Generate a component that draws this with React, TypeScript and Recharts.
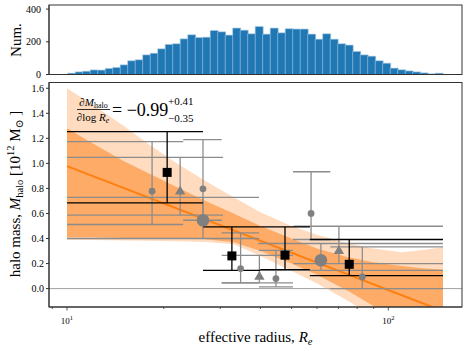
import React from 'react';
import {
  BarChart,
  Bar,
  ComposedChart,
  XAxis,
  YAxis,
  Area,
  Line,
  Scatter,
  ReferenceLine,
} from 'recharts';

const FONT = '"Liberation Serif", "DejaVu Serif", serif';

// histogram of effective radius, 50 log-spaced bins from 10 to ~148
const histCounts = [
  8, 16, 20, 28, 27, 37, 43, 59, 84, 90, 120, 130, 157, 184, 188, 218, 243, 226, 228, 269,
  261, 241, 284, 271, 249, 294, 247, 284, 255, 280, 278, 278, 247, 216, 249, 216, 188, 180, 141, 120,
  112, 84, 69, 39, 29, 22, 16, 10, 4, 8,
];

// log x axis
const xDomain = [8.79, 169.6];
const xTicks = [9, 10, 20, 30, 40, 50, 60, 70, 80, 90, 100];
const majorTicks = [10, 100];

// posterior bands of the fit
const bandX = [10, 12, 15, 18, 22, 27, 33, 40, 50, 60, 75, 90, 110, 130, 148];
const lightHi = [1.6, 1.47, 1.3, 1.15, 1.0, 0.86, 0.73, 0.61, 0.5, 0.43, 0.36, 0.32, 0.29, 0.31, 0.33];
const darkHi = [1.28, 1.16, 1.02, 0.92, 0.81, 0.7, 0.6, 0.5, 0.4, 0.32, 0.25, 0.21, 0.18, 0.16, 0.15];
const darkLo = [0.41, 0.41, 0.405, 0.4, 0.4, 0.395, 0.37, 0.3, 0.2, 0.11, -0.02, -0.14, -0.3, -0.45, -0.55];
const lightLo = [0.39, 0.388, 0.385, 0.382, 0.378, 0.372, 0.355, 0.26, 0.14, 0.04, -0.1, -0.22, -0.36, -0.5, -0.6];

// best fit line
const fitX = [10, 148];
const fitY = [0.978, -0.18];

// measurements: value, error range and the span of the caps
const squares = [
  { x: 20.5, y: 0.928, lo: 0.685, hi: 1.253, c0: 10, c1: 26.5 },
  { x: 32.6, y: 0.261, lo: 0.146, hi: 0.493, c0: 26.5, c1: 40 },
  { x: 47.7, y: 0.267, lo: 0.152, hi: 0.493, c0: 40, c1: 57 },
  { x: 75.6, y: 0.194, lo: 0.104, hi: 0.392, c0: 57, c1: 148 },
];
const smallCircles = [
  { x: 18.4, y: 0.778, lo: 0.512, hi: 1.173, c0: 10, c1: 23 },
  { x: 26.5, y: 0.797, lo: 0.546, hi: 1.19, c0: 23, c1: 30.3 },
  { x: 34.7, y: 0.16, lo: 0.045, hi: 0.445, c0: 30.3, c1: 39.6 },
  { x: 44.7, y: 0.08, lo: 0.013, hi: 0.306, c0: 39.6, c1: 50.5 },
  { x: 57.5, y: 0.6, lo: 0.392, hi: 0.933, c0: 50.5, c1: 66 },
  { x: 83, y: 0.093, lo: 0.0, hi: 0.333, c0: 66, c1: 148 },
];
const triangles = [
  { x: 22.5, y: 0.785, lo: 0.586, hi: 1.048, c0: 10, c1: 30.6 },
  { x: 39.7, y: 0.104, lo: 0.045, hi: 0.266, c0: 30.3, c1: 50.5 },
  { x: 70.2, y: 0.31, lo: 0.2, hi: 0.498, c0: 50.7, c1: 148 },
];
const bigCircles = [
  { x: 26.5, y: 0.546, lo: 0.4, hi: 0.729, c0: 10, c1: 39.6 },
  { x: 61.7, y: 0.226, lo: 0.146, hi: 0.36, c0: 39.4, c1: 148 },
];

const histData = histCounts.map((count, i) => ({ bin: i, count }));
const bandData = bandX.map((x, i) => ({
  x,
  light: [lightLo[i], lightHi[i]],
  dark: [darkLo[i], darkHi[i]],
}));
const fitData = fitX.map((x, i) => ({ x, fit: fitY[i] }));

const GRAY = '#8c8c8c';
const MARK_GRAY = '#808080';
const SPINE = '#333';
const tickStyle = { fill: '#000', fontSize: 10, fontFamily: FONT };

function LogTick(props: any) {
  const { x, y, payload, labels } = props;
  const v = payload.value;
  const major = majorTicks.includes(v);
  return (
    <g>
      <line x1={x} x2={x} y1={y} y2={y + (major ? 3.5 : 2)} stroke={SPINE} strokeWidth={0.8} />
      {labels && major && (
        <text x={x} y={y + 17} textAnchor="middle" fontSize={9} fill="#000" fontFamily={FONT}>
          10
          <tspan dy={-4} fontSize={6.5}>
            {Math.round(Math.log10(v))}
          </tspan>
        </text>
      )}
    </g>
  );
}

const errorLines = (pts: any[], color: string, key: string) =>
  pts.flatMap((p, i) => [
    <ReferenceLine
      key={`${key}v${i}`}
      segment={[{ x: p.x, y: p.lo }, { x: p.x, y: p.hi }]}
      stroke={color}
      strokeWidth={1.3}
      ifOverflow="visible"
    />,
    <ReferenceLine
      key={`${key}t${i}`}
      segment={[{ x: p.c0, y: p.hi }, { x: p.c1, y: p.hi }]}
      stroke={color}
      strokeWidth={1.3}
      ifOverflow="visible"
    />,
    <ReferenceLine
      key={`${key}b${i}`}
      segment={[{ x: p.c0, y: p.lo }, { x: p.c1, y: p.lo }]}
      stroke={color}
      strokeWidth={1.3}
      ifOverflow="visible"
    />,
  ]);

const SquareShape = (p: any) => <rect x={p.cx - 4.5} y={p.cy - 4.5} width={9} height={9} fill="#000" />;
const SmallCircle = (p: any) => <circle cx={p.cx} cy={p.cy} r={3.4} fill={MARK_GRAY} />;
const BigCircle = (p: any) => <circle cx={p.cx} cy={p.cy} r={6.3} fill={MARK_GRAY} />;
const TriangleShape = (p: any) => (
  <polygon
    points={`${p.cx},${p.cy - 4.8} ${p.cx - 5.2},${p.cy + 4.3} ${p.cx + 5.2},${p.cy + 4.3}`}
    fill={MARK_GRAY}
  />
);

const App = () => {
  return (
    <div
      style={{
        position: 'absolute',
        left: 0,
        top: 0,
        width: 469,
        height: 351,
        background: '#fff',
        fontFamily: FONT,
      }}
    >
      {/* top panel: histogram */}
      <div style={{ position: 'absolute', left: 0, top: 0 }}>
        <BarChart
          width={469}
          height={80}
          data={histData}
          margin={{ top: 5, right: 7, left: 0, bottom: 0 }}
          barCategoryGap={0}
        >
          <XAxis xAxisId="bins" dataKey="bin" type="category" hide padding={{ left: 18.7, right: 19.3 }} />
          <XAxis
            xAxisId="log"
            type="number"
            scale="log"
            domain={xDomain}
            allowDataOverflow
            ticks={xTicks}
            interval={0}
            tickLine={false}
            tickSize={0}
            tickMargin={0}
            tick={(p: any) => <LogTick {...p} />}
            axisLine={{ stroke: SPINE, strokeWidth: 1 }}
            height={5.5}
          />
          <YAxis
            domain={[0, 425]}
            ticks={[0, 200, 400]}
            width={49}
            tickSize={3}
            tickMargin={5}
            tick={tickStyle}
            tickLine={{ stroke: SPINE }}
            axisLine={{ stroke: SPINE, strokeWidth: 1 }}
          />
          <Bar
            xAxisId="bins"
            dataKey="count"
            fill="#1f77b4"
            stroke="#a9c9e4"
            strokeWidth={0.6}
            isAnimationActive={false}
          />
        </BarChart>
      </div>

      {/* bottom panel: halo mass vs effective radius */}
      <div style={{ position: 'absolute', left: 0, top: 80 }}>
        <ComposedChart
          width={469}
          height={271}
          data={bandData}
          margin={{ top: 2.5, right: 7, left: 0, bottom: 0 }}
        >
          <XAxis
            dataKey="x"
            type="number"
            scale="log"
            domain={xDomain}
            allowDataOverflow
            ticks={xTicks}
            interval={0}
            tickLine={false}
            tickSize={0}
            tickMargin={0}
            tick={(p: any) => <LogTick {...p} labels />}
            axisLine={{ stroke: SPINE, strokeWidth: 1 }}
            height={44}
          />
          <YAxis
            domain={[-0.147, 1.646]}
            allowDataOverflow
            ticks={[0, 0.2, 0.4, 0.6, 0.8, 1.0, 1.2, 1.4, 1.6]}
            tickFormatter={(v: number) => v.toFixed(1)}
            width={49}
            tickSize={3}
            tickMargin={2}
            tick={tickStyle}
            tickLine={{ stroke: SPINE }}
            axisLine={{ stroke: SPINE, strokeWidth: 1 }}
          />

          <Area
            dataKey="light"
            type="linear"
            fill="#ffdcc0"
            fillOpacity={1}
            stroke="none"
            isAnimationActive={false}
          />
          <Area
            dataKey="dark"
            type="linear"
            fill="#fdab66"
            fillOpacity={1}
            stroke="none"
            isAnimationActive={false}
          />
          <Line
            data={fitData}
            dataKey="fit"
            type="linear"
            stroke="#ff7f0e"
            strokeWidth={2}
            dot={false}
            isAnimationActive={false}
          />
          <ReferenceLine y={0} stroke="#a0a0a0" strokeWidth={1} />

          {errorLines(smallCircles, GRAY, 'sc')}
          {errorLines(triangles, GRAY, 'tr')}
          {errorLines(bigCircles, GRAY, 'bc')}
          {errorLines(squares, '#000', 'sq')}

          <Scatter data={smallCircles} dataKey="y" shape={SmallCircle} isAnimationActive={false} />
          <Scatter data={triangles} dataKey="y" shape={TriangleShape} isAnimationActive={false} />
          <Scatter data={bigCircles} dataKey="y" shape={BigCircle} isAnimationActive={false} />
          <Scatter data={squares} dataKey="y" shape={SquareShape} isAnimationActive={false} />
        </ComposedChart>
      </div>

      {/* panel frames, axis labels and fit annotation */}
      <svg
        width={469}
        height={351}
        style={{ position: 'absolute', left: 0, top: 0, pointerEvents: 'none' }}
        fontFamily={FONT}
      >
        <rect x={49} y={5} width={413} height={69.5} fill="none" stroke={SPINE} strokeWidth={1} />
        <rect x={49} y={82.5} width={413} height={224.5} fill="none" stroke={SPINE} strokeWidth={1} />

        <text x={20.5} y={40} fontSize={15} textAnchor="middle" transform="rotate(-90 20.5 40)">
          Num.
        </text>
        <text x={20} y={194} fontSize={15} textAnchor="middle" transform="rotate(-90 20 194)">
          halo mass, <tspan fontStyle="italic">M</tspan>
          <tspan fontSize={10.5} dy={3}>halo</tspan>
          <tspan dy={-3}> [10</tspan>
          <tspan fontSize={10.5} dy={-6}>12</tspan>
          <tspan dy={6}> M</tspan>
          <tspan fontSize={10.5} dy={3}>⊙</tspan>
          <tspan dy={-3}> ]</tspan>
        </text>
        <text x={255.5} y={341.5} fontSize={15} textAnchor="middle">
          effective radius, <tspan fontStyle="italic">R</tspan>
          <tspan fontSize={10.5} dy={3} fontStyle="italic">e</tspan>
        </text>

        <text x={93.5} y={106} fontSize={11} textAnchor="middle">
          ∂<tspan fontStyle="italic">M</tspan>
          <tspan fontSize={8} dy={2}>halo</tspan>
        </text>
        <line x1={77} x2={110} y1={109.5} y2={109.5} stroke="#000" strokeWidth={0.8} />
        <text x={93} y={120.5} fontSize={11} textAnchor="middle">
          ∂log <tspan fontStyle="italic">R</tspan>
          <tspan fontSize={8} dy={2} fontStyle="italic">e</tspan>
        </text>
        <text x={112} y={116} fontSize={18}>
          = −0.99
        </text>
        <text x={168} y={104.5} fontSize={11}>
          +0.41
        </text>
        <text x={168} y={121.5} fontSize={11}>
          −0.35
        </text>
      </svg>
    </div>
  );
};

export default App;
